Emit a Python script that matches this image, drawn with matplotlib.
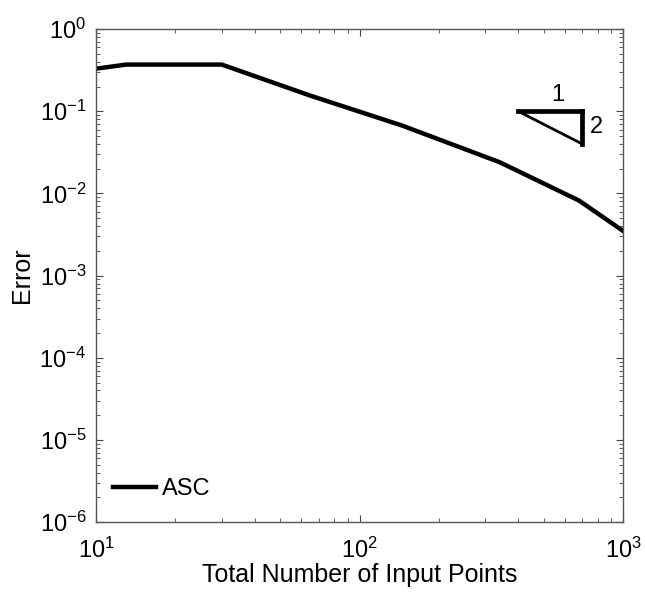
import matplotlib
matplotlib.use("Agg")
import matplotlib.pyplot as plt
from matplotlib.ticker import LogLocator, NullFormatter

plt.rcParams["font.family"] = ["Liberation Sans", "DejaVu Sans"]

# convergence of the ASC scheme
n_points = [10, 13, 30, 65, 145, 340, 680, 1000]
error = [0.33, 0.37, 0.37, 0.155, 0.067, 0.024, 0.0082, 0.0035]

# slope-2 reference triangle
tri_x = [400, 700]
tri_y = [0.1, 0.04]

fig = plt.figure(figsize=(6.45, 5.94), dpi=100)
ax = fig.add_axes([0.149, 0.121, 0.817, 0.830])

ax.loglog(n_points, error, color="black", lw=3.2, solid_joinstyle="miter", label="ASC")

# triangle: thick legs, thin hypotenuse
ax.plot([tri_x[0], tri_x[1]], [tri_y[0], tri_y[0]], color="black", lw=3.4, solid_capstyle="projecting")
ax.plot([tri_x[1], tri_x[1]], [tri_y[0], tri_y[1]], color="black", lw=3.4, solid_capstyle="projecting")
ax.plot([tri_x[0], tri_x[1]], [tri_y[0], tri_y[1]], color="black", lw=2.0)
ax.text(566, 0.159, "1", fontsize=17, ha="center", va="center")
ax.text(750, 0.0647, "2", fontsize=17, ha="left", va="center")

ax.set_xlim(10, 1000)
ax.set_ylim(1e-6, 1)
ax.xaxis.set_major_locator(LogLocator(base=10, numticks=10))
ax.yaxis.set_major_locator(LogLocator(base=10, numticks=10))
ax.xaxis.set_minor_locator(LogLocator(base=10, subs=range(2, 10), numticks=20))
ax.yaxis.set_minor_locator(LogLocator(base=10, subs=range(2, 10), numticks=20))
ax.xaxis.set_minor_formatter(NullFormatter())
ax.yaxis.set_minor_formatter(NullFormatter())
ax.tick_params(which="both", direction="in", top=True, right=True, color="#444444")
ax.tick_params(which="major", length=5, labelsize=17)
ax.tick_params(axis="x", which="major", pad=11)
ax.tick_params(axis="y", which="major", pad=7)
ax.tick_params(which="minor", length=3)
for s in ax.spines.values():
    s.set_color("#555555")
    s.set_linewidth(1.0)

ax.set_xlabel("Total Number of Input Points", fontsize=18, labelpad=0)
ax.set_ylabel("Error", fontsize=18, labelpad=4)

leg = ax.legend(loc="lower left", frameon=False, fontsize=17, handlelength=1.8,
                handletextpad=0.25, borderaxespad=0.0, bbox_to_anchor=(0.015, 0.025))

fig.savefig("out.png", dpi=100)
